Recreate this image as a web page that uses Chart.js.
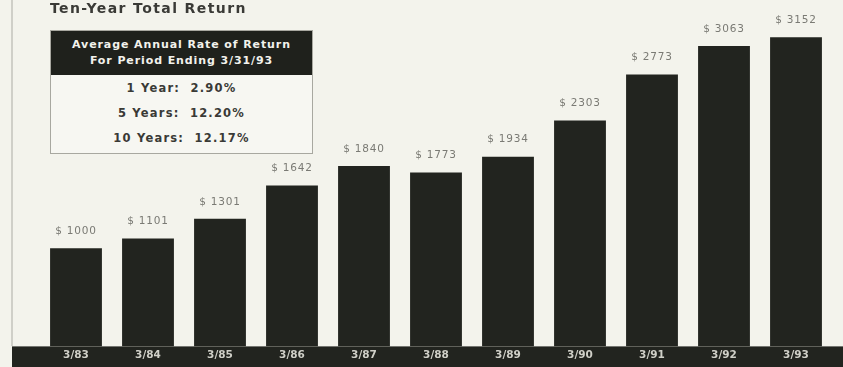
<!DOCTYPE html>
<html>
<head>
<meta charset="utf-8">
<script src="https://cdn.jsdelivr.net/npm/chart.js@4/dist/chart.umd.min.js"></script>
<style>
  html, body { margin: 0; padding: 0; background: #f3f3ec; }
  .wrap { position: relative; width: 843px; height: 367px; overflow: hidden; }
  .edge { position: absolute; left: 11px; top: 0; width: 2px; height: 346px; background: #cfcfc8; }
  canvas { position: absolute; left: 0; top: 0; }
  .title { position: absolute; left: 50px; top: 0px; font: bold 14px "DejaVu Sans", sans-serif; color: #3a3a36; letter-spacing: 1.4px; }
  .box { position: absolute; left: 50px; top: 30px; width: 261px; height: 122px; border: 1px solid #a8a8a0; background: #f7f7f2; }
  .box .head { background: #1f211c; color: #f2f2ec; font: bold 11px "DejaVu Sans", sans-serif; letter-spacing: 0.9px; text-align: center; height: 44px; line-height: 16px; padding-top: 6px; box-sizing: border-box; }
  .box .row { font: bold 11.5px "DejaVu Sans", sans-serif; letter-spacing: 1.2px; color: #3a3a36; text-align: center; height: 25px; line-height: 25px; }
  .box .rows { padding-top: 1px; }
</style>
</head>
<body>
<div class="wrap">
  <div class="edge"></div>
  <canvas id="chart" width="843" height="367"></canvas>
  <div class="title">Ten-Year Total Return</div>
  <div class="box">
    <div class="head">Average Annual Rate of Return<br>For Period Ending 3/31/93</div>
    <div class="rows">
      <div class="row">1 Year:&nbsp; 2.90%</div>
      <div class="row">5 Years:&nbsp; 12.20%</div>
      <div class="row">10 Years:&nbsp; 12.17%</div>
    </div>
  </div>
</div>
<script>
const periods = ["3/83", "3/84", "3/85", "3/86", "3/87", "3/88", "3/89", "3/90", "3/91", "3/92", "3/93"]
const totalValue = [1000, 1101, 1301, 1642, 1840, 1773, 1934, 2303, 2773, 3063, 3152]

const barColor = "#22241f"

// dark band along the bottom, drawn before the axis so tick labels sit on it
const bandPlugin = {
  id: "band",
  beforeDraw(chart) {
    const { ctx, chartArea } = chart
    ctx.save()
    ctx.fillStyle = barColor
    ctx.fillRect(12, chartArea.bottom, chart.width - 12, chart.height - chartArea.bottom)
    ctx.restore()
  }
}

// "$ 1000" style labels above every bar
const valueLabels = {
  id: "valueLabels",
  afterDatasetsDraw(chart) {
    const { ctx } = chart
    const meta = chart.getDatasetMeta(0)
    ctx.save()
    ctx.fillStyle = "#7a7a74"
    ctx.font = "10.5px 'DejaVu Sans', sans-serif"
    ctx.letterSpacing = "0.8px"
    ctx.textAlign = "center"
    ctx.textBaseline = "middle"
    meta.data.forEach((bar, i) => {
      ctx.fillText("$ " + totalValue[i], bar.x, bar.y - 17)
    })
    ctx.restore()
  }
}

new Chart(document.getElementById("chart"), {
  type: "bar",
  data: {
    labels: periods,
    datasets: [{
      data: totalValue,
      backgroundColor: barColor,
      borderWidth: 0,
      categoryPercentage: 0.72,
      barPercentage: 1.0
    }]
  },
  options: {
    responsive: false,
    animation: false,
    layout: { padding: { left: 40, right: 11, top: 13, bottom: 2 } },
    plugins: {
      legend: { display: false },
      tooltip: { enabled: false }
    },
    scales: {
      x: {
        grid: { display: false, drawTicks: false },
        border: { display: false },
        ticks: {
          color: "#d0d0c8",
          font: { family: "DejaVu Sans", size: 10.5, weight: "bold" },
          padding: 3,
          maxRotation: 0
        }
      },
      y: {
        display: false,
        min: 0,
        max: 3400
      }
    }
  },
  plugins: [bandPlugin, valueLabels]
})
</script>
</body>
</html>
